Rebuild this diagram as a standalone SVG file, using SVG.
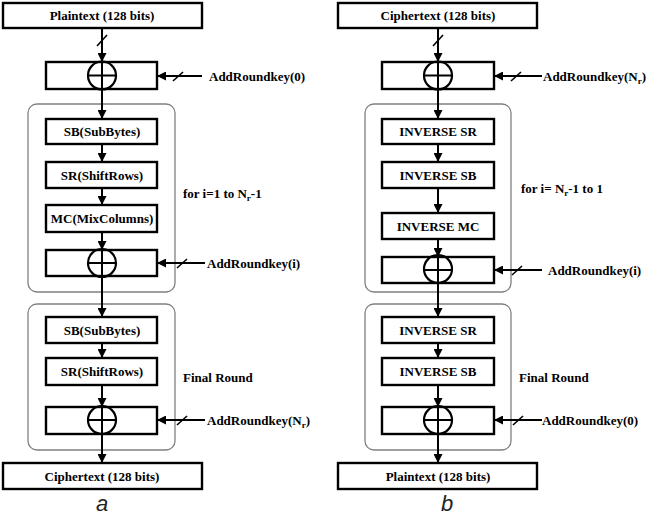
<svg xmlns="http://www.w3.org/2000/svg" width="650" height="515" viewBox="0 0 650 515">
<style>
.box{fill:#fff;stroke:#000;stroke-width:2.4}
.grp{fill:none;stroke:#808080;stroke-width:1.3}
.t{font-family:"Liberation Serif","Times New Roman",serif;font-weight:bold;font-size:13px;fill:#000}
.c{text-anchor:middle}
.ln{stroke:#000;stroke-width:2;fill:none}
.sl{stroke:#000;stroke-width:1.6}
.xc{fill:none;stroke:#000;stroke-width:2.2}
.cap{font-family:"Liberation Sans",Arial,sans-serif;font-style:italic;font-size:22px;fill:#222;text-anchor:middle}
.sub{font-size:9px}
</style>
<defs>
<marker id="ah" viewBox="0 0 10 10" refX="10" refY="5" markerWidth="4.5" markerHeight="4.5" orient="auto" markerUnits="strokeWidth">
<path d="M0,0 L10,5 L0,10 z" fill="#000"/>
</marker>
</defs>

<!-- group frames -->
<g id="frames">
<rect id="loopA" class="grp" x="28" y="104" width="147" height="188" rx="9"/>
<rect id="finalA" class="grp" x="28" y="304" width="147" height="146" rx="9"/>
<rect id="loopB" class="grp" x="365" y="104" width="146" height="188" rx="9"/>
<rect id="finalB" class="grp" x="365" y="304" width="146" height="146" rx="9"/>
</g>

<!-- connectors -->
<g id="connectors">
<line class="ln" x1="102" y1="28" x2="102" y2="62" marker-end="url(#ah)"/>
<line class="sl" x1="97" y1="46" x2="107" y2="35"/>
<line class="ln" x1="102" y1="89" x2="102" y2="119" marker-end="url(#ah)"/>
<line class="ln" x1="102" y1="144" x2="102" y2="162" marker-end="url(#ah)"/>
<line class="ln" x1="102" y1="188" x2="102" y2="205" marker-end="url(#ah)"/>
<line class="ln" x1="102" y1="232" x2="102" y2="250" marker-end="url(#ah)"/>
<line class="ln" x1="102" y1="276" x2="102" y2="317" marker-end="url(#ah)"/>
<line class="ln" x1="102" y1="343" x2="102" y2="358" marker-end="url(#ah)"/>
<line class="ln" x1="102" y1="385" x2="102" y2="407" marker-end="url(#ah)"/>
<line class="ln" x1="102" y1="434" x2="102" y2="463" marker-end="url(#ah)"/>
<line class="ln" x1="202" y1="76" x2="157" y2="76" marker-end="url(#ah)"/>
<line class="sl" x1="173" y1="81" x2="183" y2="72"/>
<line class="ln" x1="205" y1="263" x2="157" y2="263" marker-end="url(#ah)"/>
<line class="sl" x1="177" y1="268" x2="187" y2="259"/>
<line class="ln" x1="205" y1="420" x2="157" y2="420" marker-end="url(#ah)"/>
<line class="sl" x1="177" y1="425" x2="187" y2="416"/>

<line class="ln" x1="438" y1="28" x2="438" y2="62" marker-end="url(#ah)"/>
<line class="sl" x1="433" y1="46" x2="443" y2="35"/>
<line class="ln" x1="438" y1="89" x2="438" y2="119" marker-end="url(#ah)"/>
<line class="ln" x1="438" y1="144" x2="438" y2="162" marker-end="url(#ah)"/>
<line class="ln" x1="438" y1="188" x2="438" y2="213" marker-end="url(#ah)"/>
<line class="ln" x1="438" y1="239" x2="438" y2="257" marker-end="url(#ah)"/>
<line class="ln" x1="438" y1="283" x2="438" y2="317" marker-end="url(#ah)"/>
<line class="ln" x1="438" y1="343" x2="438" y2="358" marker-end="url(#ah)"/>
<line class="ln" x1="438" y1="385" x2="438" y2="407" marker-end="url(#ah)"/>
<line class="ln" x1="438" y1="434" x2="438" y2="463" marker-end="url(#ah)"/>
<line class="ln" x1="542" y1="76" x2="494" y2="76" marker-end="url(#ah)"/>
<line class="sl" x1="511" y1="81" x2="521" y2="72"/>
<line class="ln" x1="542" y1="270" x2="494" y2="270" marker-end="url(#ah)"/>
<line class="sl" x1="512" y1="275" x2="522" y2="266"/>
<line class="ln" x1="542" y1="420" x2="494" y2="420" marker-end="url(#ah)"/>
<line class="sl" x1="513" y1="425" x2="523" y2="416"/>
</g>

<!-- Left (a) -->
<g id="plainA"><rect class="box" x="3" y="3" width="199" height="25"/><text class="t c" x="102" y="20">Plaintext (128 bits)</text></g>
<g id="xor0A"><rect class="box" x="46" y="62" width="111" height="27"/><circle class="xc" cx="102" cy="75.5" r="14"/><line class="ln" x1="88" y1="75.5" x2="116" y2="75.5"/><line class="ln" x1="102" y1="61.5" x2="102" y2="89.5"/></g>
<g id="keyA0"><text class="t" x="209" y="81">AddRoundkey(0)</text></g>
<g id="sbA1"><rect class="box" x="46" y="119" width="111" height="25"/><text class="t c" x="102" y="136">SB(SubBytes)</text></g>
<g id="srA1"><rect class="box" x="46" y="162" width="111" height="26"/><text class="t c" x="102" y="180">SR(ShiftRows)</text></g>
<g id="mcA"><rect class="box" x="46" y="205" width="111" height="27"/><text class="t c" x="102" y="223">MC(MixColumns)</text></g>
<g id="xoriA"><rect class="box" x="46" y="250" width="111" height="26"/><circle class="xc" cx="102" cy="263" r="14"/><line class="ln" x1="88" y1="263" x2="116" y2="263"/><line class="ln" x1="102" y1="249" x2="102" y2="277"/></g>
<g id="keyAi"><text class="t" x="207" y="268">AddRoundkey(i)</text></g>
<g id="loopLabelA"><text class="t" x="183" y="198">for i=1 to N<tspan class="sub" dy="3">r</tspan><tspan dy="-3">-1</tspan></text></g>
<g id="sbA2"><rect class="box" x="46" y="317" width="111" height="26"/><text class="t c" x="102" y="335">SB(SubBytes)</text></g>
<g id="srA2"><rect class="box" x="46" y="358" width="111" height="27"/><text class="t c" x="102" y="376">SR(ShiftRows)</text></g>
<g id="finalLabelA"><text class="t" x="183" y="382">Final Round</text></g>
<g id="xorNA"><rect class="box" x="46" y="407" width="111" height="27"/><circle class="xc" cx="102" cy="420" r="14"/><line class="ln" x1="88" y1="420" x2="116" y2="420"/><line class="ln" x1="102" y1="406" x2="102" y2="434"/></g>
<g id="keyAN"><text class="t" x="207" y="425">AddRoundkey(N<tspan class="sub" dy="3">r</tspan><tspan dy="-3">)</tspan></text></g>
<g id="cipherA"><rect class="box" x="3" y="463" width="199" height="26"/><text class="t c" x="102" y="481">Ciphertext (128 bits)</text></g>
<g id="capA"><text class="cap" x="102" y="511">a</text></g>

<!-- Right (b) -->
<g id="cipherB"><rect class="box" x="338" y="3" width="199" height="25"/><text class="t c" x="438" y="20">Ciphertext (128 bits)</text></g>
<g id="xorNB"><rect class="box" x="382" y="62" width="112" height="27"/><circle class="xc" cx="438" cy="75.5" r="14"/><line class="ln" x1="424" y1="75.5" x2="452" y2="75.5"/><line class="ln" x1="438" y1="61.5" x2="438" y2="89.5"/></g>
<g id="keyBN"><text class="t" x="543" y="81">AddRoundkey(N<tspan class="sub" dy="3">r</tspan><tspan dy="-3">)</tspan></text></g>
<g id="isrB1"><rect class="box" x="382" y="119" width="112" height="25"/><text class="t c" x="438" y="136">INVERSE SR</text></g>
<g id="isbB1"><rect class="box" x="382" y="162" width="112" height="26"/><text class="t c" x="438" y="180">INVERSE SB</text></g>
<g id="loopLabelB"><text class="t" x="521" y="193">for i= N<tspan class="sub" dy="3">r</tspan><tspan dy="-3">-1 to 1</tspan></text></g>
<g id="imcB"><rect class="box" x="382" y="213" width="112" height="26"/><text class="t c" x="438" y="231">INVERSE MC</text></g>
<g id="xoriB"><rect class="box" x="382" y="257" width="112" height="26"/><circle class="xc" cx="438" cy="269" r="14"/><line class="ln" x1="424" y1="270" x2="452" y2="270"/><line class="ln" x1="438" y1="255" x2="438" y2="283"/></g>
<g id="keyBi"><text class="t" x="548" y="275">AddRoundkey(i)</text></g>
<g id="isrB2"><rect class="box" x="382" y="317" width="112" height="26"/><text class="t c" x="438" y="335">INVERSE SR</text></g>
<g id="isbB2"><rect class="box" x="382" y="358" width="112" height="27"/><text class="t c" x="438" y="376">INVERSE SB</text></g>
<g id="finalLabelB"><text class="t" x="519" y="382">Final Round</text></g>
<g id="xor0B"><rect class="box" x="382" y="407" width="112" height="27"/><circle class="xc" cx="438" cy="420" r="14"/><line class="ln" x1="424" y1="420" x2="452" y2="420"/><line class="ln" x1="438" y1="406" x2="438" y2="434"/></g>
<g id="keyB0"><text class="t" x="542" y="425">AddRoundkey(0)</text></g>
<g id="plainB"><rect class="box" x="338" y="463" width="199" height="26"/><text class="t c" x="438" y="481">Plaintext (128 bits)</text></g>
<g id="capB"><text class="cap" x="447" y="511">b</text></g>
</svg>
